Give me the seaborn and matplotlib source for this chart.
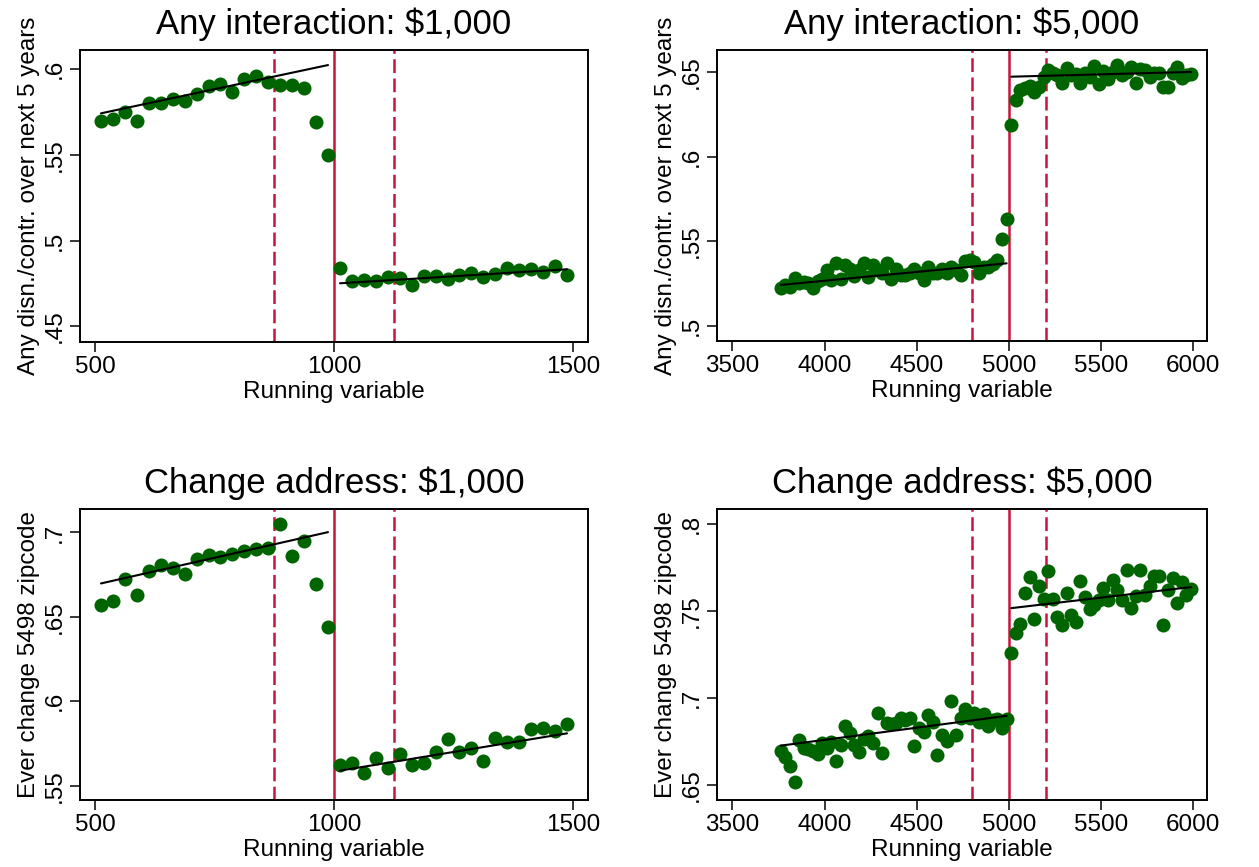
import numpy as np
import pandas as pd
import matplotlib
matplotlib.use("Agg")
import matplotlib.pyplot as plt
import seaborn as sns

sns.set_theme(style="white")
plt.rcParams["font.family"] = ["Liberation Sans", "DejaVu Sans"]

# Bin centres of the running variable (25-unit bins on each side of the cutoff)
bins_1k_left = np.arange(512.5, 1000, 25)
bins_1k_right = np.arange(1012.5, 1500, 25)
bins_5k_left = np.arange(3762.5, 5000, 25)
bins_5k_right = np.arange(5012.5, 6000, 25)

# Any disenrollment/contribution over the next 5 years, $1,000 threshold
any_1k_left = [0.5698, 0.5708, 0.5753, 0.5700, 0.5805, 0.5801, 0.5827, 0.5817, 0.5856, 0.5905,
               0.5912, 0.5868, 0.5942, 0.5961, 0.5924, 0.5907, 0.5910, 0.5893, 0.5690, 0.5498]
any_1k_right = [0.4842, 0.4766, 0.4770, 0.4764, 0.4785, 0.4783, 0.4740, 0.4793, 0.4791, 0.4777,
                0.4797, 0.4808, 0.4785, 0.4803, 0.4838, 0.4828, 0.4834, 0.4818, 0.4851, 0.4799]
fit_any_1k_left = [0.5743, 0.6025]
fit_any_1k_right = [0.4750, 0.4832]

# Any disenrollment/contribution over the next 5 years, $5,000 threshold
any_5k_left = [0.5221, 0.5241, 0.5227, 0.5280, 0.5255, 0.5261, 0.5251, 0.5221, 0.5266, 0.5274,
               0.5330, 0.5270, 0.5373, 0.5274, 0.5359, 0.5334, 0.5294, 0.5330, 0.5373, 0.5290,
               0.5359, 0.5330, 0.5310, 0.5373, 0.5274, 0.5334, 0.5300, 0.5300, 0.5310, 0.5334,
               0.5310, 0.5270, 0.5349, 0.5310, 0.5310, 0.5334, 0.5310, 0.5345, 0.5330, 0.5300,
               0.5385, 0.5389, 0.5379, 0.5310, 0.5345, 0.5349, 0.5365, 0.5389, 0.5511, 0.5632]
any_5k_right = [0.6188, 0.6336, 0.6395, 0.6405, 0.6419, 0.6386, 0.6415, 0.6474, 0.6514, 0.6494,
                0.6484, 0.6439, 0.6524, 0.6484, 0.6490, 0.6435, 0.6494, 0.6474, 0.6538, 0.6431,
                0.6510, 0.6459, 0.6504, 0.6543, 0.6484, 0.6504, 0.6530, 0.6439, 0.6518, 0.6514,
                0.6470, 0.6494, 0.6494, 0.6415, 0.6411, 0.6494, 0.6534, 0.6464, 0.6484, 0.6490]
fit_any_5k_left = [0.5241, 0.5369]
fit_any_5k_right = [0.6474, 0.6502]

# Ever changed zipcode, $1,000 threshold
zip_1k_left = [0.6571, 0.6591, 0.6727, 0.6632, 0.6773, 0.6810, 0.6792, 0.6751, 0.6842, 0.6868,
               0.6854, 0.6872, 0.6891, 0.6903, 0.6905, 0.7051, 0.6858, 0.6947, 0.6696, 0.6441]
zip_1k_right = [0.5623, 0.5632, 0.5573, 0.5662, 0.5607, 0.5686, 0.5623, 0.5632, 0.5698, 0.5777,
                0.5698, 0.5721, 0.5648, 0.5781, 0.5761, 0.5757, 0.5834, 0.5840, 0.5824, 0.5864]
fit_zip_1k_left = [0.6698, 0.7002]
fit_zip_1k_right = [0.5589, 0.5810]

# Ever changed zipcode, $5,000 threshold
zip_5k_left = [0.6697, 0.6659, 0.6609, 0.6519, 0.6759, 0.6711, 0.6705, 0.6697, 0.6678, 0.6743,
               0.6711, 0.6749, 0.6640, 0.6730, 0.6839, 0.6797, 0.6730, 0.6692, 0.6762, 0.6782,
               0.6739, 0.6912, 0.6686, 0.6858, 0.6851, 0.6858, 0.6883, 0.6874, 0.6883, 0.6724,
               0.6826, 0.6807, 0.6902, 0.6864, 0.6672, 0.6787, 0.6755, 0.6985, 0.6787, 0.6883,
               0.6935, 0.6883, 0.6912, 0.6864, 0.6908, 0.6839, 0.6874, 0.6877, 0.6826, 0.6877]
zip_5k_right = [0.7257, 0.7375, 0.7425, 0.7602, 0.7693, 0.7454, 0.7644, 0.7567, 0.7726, 0.7567,
                0.7464, 0.7420, 0.7602, 0.7477, 0.7433, 0.7669, 0.7579, 0.7510, 0.7535, 0.7559,
                0.7630, 0.7559, 0.7678, 0.7621, 0.7563, 0.7732, 0.7515, 0.7582, 0.7732, 0.7592,
                0.7640, 0.7701, 0.7701, 0.7416, 0.7617, 0.7688, 0.7544, 0.7663, 0.7592, 0.7625]
fit_zip_5k_left = [0.6726, 0.6897]
fit_zip_5k_right = [0.7515, 0.7636]

ticks_1k = [500, 1000, 1500]
ticks_5k = [3500, 4000, 4500, 5000, 5500, 6000]

DOT = "#006400"
RED = "#c8143c"


def stata_num(v):
    s = f"{v:g}"
    return s[1:] if s.startswith("0.") else s


def draw_panel(ax, xl, yl, xr, yr, fitl, fitr, cutoff, donut, title, ylabel,
               xticks, yticks, xlim, ylim):
    for xv in (cutoff - donut, cutoff + donut):
        ax.axvline(xv, color=RED, lw=1.8, dashes=(5.5, 2.2), zorder=1)
    ax.axvline(cutoff, color=RED, lw=1.8, zorder=1)

    df = pd.DataFrame({"x": np.concatenate([xl, xr]), "y": list(yl) + list(yr)})
    sns.scatterplot(data=df, x="x", y="y", ax=ax, color=DOT, s=102,
                    linewidth=0, zorder=3)
    for xs, fy in ((xl, fitl), (xr, fitr)):
        line = pd.DataFrame({"x": [xs[0], xs[-1]], "y": fy})
        sns.lineplot(data=line, x="x", y="y", ax=ax, color="black", lw=1.5,
                     estimator=None, zorder=4)

    ax.set_xlim(*xlim)
    ax.set_ylim(*ylim)
    ax.set_xticks(xticks)
    ax.set_xticklabels([str(t) for t in xticks])
    ax.set_yticks(yticks)
    ax.set_yticklabels([stata_num(t) for t in yticks], rotation=90, va="center")
    ax.tick_params(axis="both", which="major", bottom=True, left=True,
                   direction="out", length=7, width=1.1, color="black",
                   labelsize=17.5, pad=3, labelcolor="black")
    for sp in ax.spines.values():
        sp.set_color("black")
        sp.set_linewidth(1.4)
    ax.set_title(title, fontsize=25, pad=11.5, color="black")
    ax.set_xlabel("Running variable", fontsize=17.5, labelpad=2, color="black")
    ax.set_ylabel(ylabel, fontsize=17.5, labelpad=3, color="black")


W, H = 1259, 867
fig = plt.figure(figsize=(W / 100, H / 100), dpi=100)
fig.patch.set_facecolor("white")


def axes_px(left, top, right, bottom):
    return fig.add_axes([left / W, 1 - bottom / H, (right - left) / W, (bottom - top) / H])


ax1 = axes_px(80, 50, 588, 342)
ax2 = axes_px(717, 50, 1207, 341)
ax3 = axes_px(80, 509, 588, 800)
ax4 = axes_px(717, 509, 1207, 800)

lab_any = "Any disn./contr. over next 5 years"
lab_zip = "Ever change 5498 zipcode"

draw_panel(ax1, bins_1k_left, any_1k_left, bins_1k_right, any_1k_right,
           fit_any_1k_left, fit_any_1k_right, 1000, 125,
           "Any interaction: $1,000", lab_any, ticks_1k, [0.45, 0.5, 0.55, 0.6],
           (468.6, 1531.4), (0.4407, 0.6113))
draw_panel(ax2, bins_5k_left, any_5k_left, bins_5k_right, any_5k_right,
           fit_any_5k_left, fit_any_5k_right, 5000, 200,
           "Any interaction: $5,000", lab_any, ticks_5k, [0.5, 0.55, 0.6, 0.65],
           (3417, 6074), (0.4909, 0.6632))
draw_panel(ax3, bins_1k_left, zip_1k_left, bins_1k_right, zip_1k_right,
           fit_zip_1k_left, fit_zip_1k_right, 1000, 125,
           "Change address: $1,000", lab_zip, ticks_1k, [0.55, 0.6, 0.65, 0.7],
           (468.6, 1531.4), (0.5415, 0.7139))
draw_panel(ax4, bins_5k_left, zip_5k_left, bins_5k_right, zip_5k_right,
           fit_zip_5k_left, fit_zip_5k_right, 5000, 200,
           "Change address: $5,000", lab_zip, ticks_5k, [0.65, 0.7, 0.75, 0.8],
           (3417, 6074), (0.6414, 0.8084))

fig.savefig("out.png", dpi=100, facecolor="white")
